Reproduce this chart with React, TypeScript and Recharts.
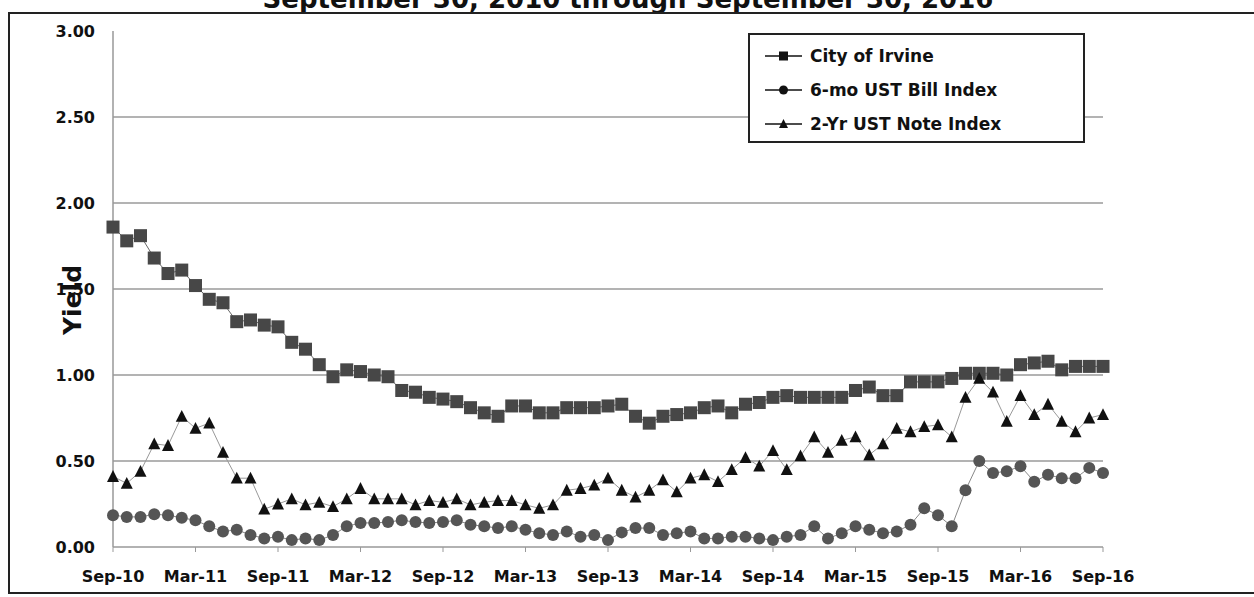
import React from 'react'
import { CartesianGrid, Line, LineChart, XAxis, YAxis } from 'recharts'

// monthly, Sep-10 .. Sep-16 (73 points)
const MONTH_NAMES = ['Jan', 'Feb', 'Mar', 'Apr', 'May', 'Jun', 'Jul', 'Aug', 'Sep', 'Oct', 'Nov', 'Dec']
const MONTHS: string[] = []
for (let k = 0; k < 73; k++) {
  const m = (8 + k) % 12
  const y = 10 + Math.floor((8 + k) / 12)
  MONTHS.push(`${MONTH_NAMES[m]}-${y}`)
}

const IRVINE = [
  1.86, 1.78, 1.81, 1.68, 1.59, 1.61, 1.52, 1.44, 1.42, 1.31, 1.32, 1.29,
  1.28, 1.19, 1.15, 1.06, 0.99, 1.03, 1.02, 1.0, 0.99, 0.91, 0.9, 0.87,
  0.86, 0.845, 0.81, 0.78, 0.76, 0.82, 0.82, 0.78, 0.78, 0.81, 0.81, 0.81,
  0.82, 0.83, 0.76, 0.72, 0.76, 0.77, 0.78, 0.81, 0.82, 0.78, 0.83, 0.84,
  0.87, 0.88, 0.87, 0.87, 0.87, 0.87, 0.91, 0.93, 0.88, 0.88, 0.96, 0.96,
  0.96, 0.98, 1.01, 1.01, 1.01, 1.0, 1.06, 1.07, 1.08, 1.03, 1.05, 1.05,
  1.05,
]

const BILL_6MO = [
  0.185, 0.175, 0.175, 0.19, 0.185, 0.17, 0.155, 0.12, 0.09, 0.1, 0.07, 0.05,
  0.06, 0.04, 0.05, 0.04, 0.07, 0.12, 0.14, 0.14, 0.145, 0.155, 0.145, 0.14,
  0.145, 0.155, 0.13, 0.12, 0.11, 0.12, 0.1, 0.08, 0.07, 0.09, 0.06, 0.07,
  0.04, 0.085, 0.11, 0.11, 0.07, 0.08, 0.09, 0.05, 0.05, 0.06, 0.06, 0.05,
  0.04, 0.06, 0.07, 0.12, 0.05, 0.08, 0.12, 0.1, 0.08, 0.09, 0.13, 0.225,
  0.185, 0.12, 0.33, 0.5, 0.43, 0.44, 0.47, 0.38, 0.42, 0.4, 0.4, 0.46,
  0.43,
]

const NOTE_2YR = [
  0.41, 0.37, 0.44, 0.6, 0.59, 0.76, 0.69, 0.72, 0.55, 0.4, 0.4, 0.22,
  0.25, 0.28, 0.245, 0.26, 0.235, 0.28, 0.34, 0.28, 0.28, 0.28, 0.245, 0.27,
  0.26, 0.28, 0.245, 0.26, 0.27, 0.27, 0.245, 0.225, 0.245, 0.33, 0.34, 0.36,
  0.4, 0.33, 0.29, 0.33, 0.39, 0.32, 0.4, 0.42, 0.38, 0.45, 0.52, 0.47,
  0.56, 0.45, 0.53, 0.64, 0.55, 0.62, 0.64, 0.535, 0.6, 0.69, 0.67, 0.7,
  0.71, 0.64, 0.87, 0.98, 0.9, 0.73, 0.88, 0.77, 0.83, 0.73, 0.67, 0.75,
  0.77,
]

const Y_TICKS = [0, 0.5, 1, 1.5, 2, 2.5, 3]

const SERIES = [
  { key: 'irvine', name: 'City of Irvine', shape: 'square', color: '#474747' },
  { key: 'bill', name: '6-mo UST Bill Index', shape: 'circle', color: '#555555' },
  { key: 'note', name: '2-Yr UST Note Index', shape: 'triangle', color: '#111111' },
]

const data = MONTHS.map((month, i) => ({
  month,
  irvine: IRVINE[i],
  bill: BILL_6MO[i],
  note: NOTE_2YR[i],
}))

const FONT = '"DejaVu Sans", "Liberation Sans", Arial, sans-serif'

function marker(shape: string, color: string, cx: number, cy: number, s: number, key?: any) {
  if (shape === 'square') {
    return <rect key={key} x={cx - s / 2} y={cy - s / 2} width={s} height={s} fill={color} />
  }
  if (shape === 'circle') {
    return <circle key={key} cx={cx} cy={cy} r={s / 2} fill={color} />
  }
  const h = s * 0.9
  return (
    <polygon
      key={key}
      points={`${cx},${cy - h / 2 - 1} ${cx - s / 2},${cy + h / 2} ${cx + s / 2},${cy + h / 2}`}
      fill={color}
    />
  )
}

function dotFor(shape: string, color: string, size: number) {
  return (p: any) => {
    if (p.cx == null || p.cy == null) return <g key={p.index} />
    return marker(shape, color, p.cx, p.cy, size, p.index)
  }
}

function LegendBox() {
  return (
    <div
      style={{
        position: 'absolute',
        left: 748,
        top: 33,
        width: 337,
        height: 110,
        boxSizing: 'border-box',
        border: '2px solid #222',
        background: '#fff',
        paddingTop: 4,
      }}
    >
      {SERIES.map((s) => (
        <div key={s.key} style={{ display: 'flex', alignItems: 'center', height: 34 }}>
          <svg width={60} height={20} style={{ flex: 'none' }}>
            <line x1={15} x2={52} y1={10} y2={10} stroke="#111" strokeWidth={1.5} />
            {marker(s.shape, '#111', 33.5, 10, 9)}
          </svg>
          <span style={{ fontFamily: FONT, fontWeight: 'bold', fontSize: 17, color: '#111' }}>{s.name}</span>
        </div>
      ))}
    </div>
  )
}

function YieldLabel(props: any) {
  const vb = props.viewBox || { x: 53, y: 31, width: 60, height: 516 }
  const x = vb.x + 19
  const y = vb.y + vb.height / 2 + 11
  return (
    <text
      x={x}
      y={y}
      transform={`rotate(-90, ${x}, ${y})`}
      textAnchor="middle"
      dominantBaseline="central"
      style={{ fontFamily: FONT, fontWeight: 'bold', fontSize: 25, fill: '#111' }}
    >
      Yield
    </text>
  )
}

export default function App() {
  return (
    <div style={{ position: 'absolute', left: 0, top: 0, width: 1254, height: 597, overflow: 'hidden', background: '#fff' }}>
      <svg width={1254} height={20} style={{ position: 'absolute', left: 0, top: 0 }}>
        <text x={628} y={8} textAnchor="middle" style={{ fontFamily: FONT, fontWeight: 'bold', fontSize: 26, fill: '#111' }}>
          September 30, 2010 through September 30, 2016
        </text>
      </svg>
      <div
        style={{
          position: 'absolute',
          left: 8,
          top: 12,
          width: 1246,
          height: 582,
          boxSizing: 'border-box',
          borderLeft: '2px solid #222',
          borderTop: '2px solid #222',
          borderBottom: '2px solid #222',
        }}
      />
      <div style={{ position: 'absolute', left: 0, top: 0 }}>
        <LineChart width={1254} height={597} data={data} margin={{ top: 31, right: 151, left: 53, bottom: 20 }}>
          <CartesianGrid vertical={false} stroke="#9a9a9a" strokeWidth={1.5} horizontalValues={[0.5, 1, 1.5, 2, 2.5]} />
          <XAxis
            dataKey="month"
            interval={5}
            height={30}
            axisLine={{ stroke: '#999', strokeWidth: 1.5 }}
            tickLine={{ stroke: '#999' }}
            tickSize={5}
            tickMargin={19}
            tick={{ fontFamily: FONT, fontWeight: 'bold', fontSize: 16, fill: '#111' }}
          />
          <YAxis
            width={60}
            domain={[0, 3]}
            ticks={Y_TICKS}
            interval={0}
            tickFormatter={(v: number) => v.toFixed(2)}
            axisLine={{ stroke: '#999', strokeWidth: 1.5 }}
            tickLine={false}
            tickSize={0}
            tickMargin={18}
            tick={{ fontFamily: FONT, fontWeight: 'bold', fontSize: 16, fill: '#111' }}
            label={<YieldLabel />}
          />
          <Line
            dataKey="irvine"
            name="City of Irvine"
            stroke="#666"
            strokeWidth={1}
            dot={dotFor('square', '#474747', 13)}
            activeDot={false}
            isAnimationActive={false}
          />
          <Line
            dataKey="bill"
            name="6-mo UST Bill Index"
            stroke="#888"
            strokeWidth={1}
            dot={dotFor('circle', '#555555', 12)}
            activeDot={false}
            isAnimationActive={false}
          />
          <Line
            dataKey="note"
            name="2-Yr UST Note Index"
            stroke="#999"
            strokeWidth={1}
            dot={dotFor('triangle', '#111111', 12)}
            activeDot={false}
            isAnimationActive={false}
          />
        </LineChart>
      </div>
      <LegendBox />
    </div>
  )
}
